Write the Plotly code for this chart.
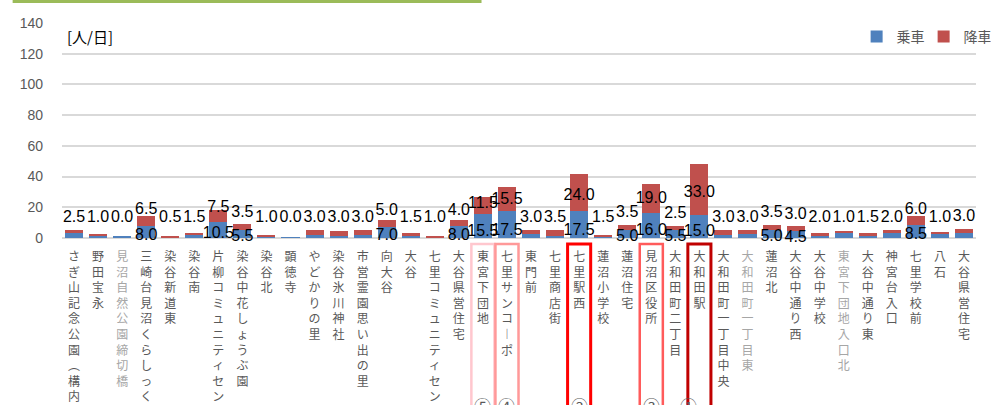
import plotly.graph_objects as go

stops = [
    "さぎ山記念公園︵構内︶", "野田宝永", "見沼自然公園締切橋", "三崎台見沼くらしっく館", "染谷新道東",
    "染谷南", "片柳コミュニティセンタ︱", "染谷中花しょうぶ園", "染谷北", "顕徳寺",
    "やどかりの里", "染谷氷川神社", "市営霊園思い出の里", "向大谷", "大谷",
    "七里コミュニティセンタ︱", "大谷県営住宅", "東宮下団地", "七里サンコ︱ポ", "東門前",
    "七里商店街", "七里駅西", "蓮沼小学校", "蓮沼住宅", "見沼区役所",
    "大和田町二丁目", "大和田駅", "大和田町一丁目中央", "大和田町一丁目東", "蓮沼北",
    "大谷中通り西", "大谷中学校", "東宮下団地入口北", "大谷中通り東", "神宮台入口",
    "七里学校前", "八石", "大谷県営住宅",
]
boarding = [3.0, 1.5, 1.0, 8.0, 0.5, 2.0, 10.5, 5.5, 1.0, 0.5,
            2.0, 1.5, 2.0, 7.0, 1.5, 0.5, 8.0, 15.5, 17.5, 2.5,
            1.5, 17.5, 0.5, 5.0, 16.0, 5.5, 15.0, 2.0, 2.5, 5.0,
            4.5, 1.5, 3.5, 1.5, 3.0, 8.5, 3.0, 3.0]
alighting = [2.5, 1.0, 0.0, 6.5, 0.5, 1.5, 7.5, 3.5, 1.0, 0.0,
             3.0, 3.0, 3.0, 5.0, 1.5, 1.0, 4.0, 11.5, 15.5, 3.0,
             3.5, 24.0, 1.5, 3.5, 19.0, 2.5, 33.0, 3.0, 3.0, 3.5,
             3.0, 2.0, 1.0, 1.5, 2.0, 6.0, 1.0, 3.0]
grey_stops = [2, 28, 32]
# highlighted stops: (index, box colour, circled rank)
highlights = [(17, "#FFC7CE", "⑤"), (18, "#FF9999", "④"), (21, "#FF0000", "②"),
              (24, "#FF5B5B", "③"), (26, "#C00000", "①")]
y_ticks = [0, 20, 40, 60, 80, 100, 120, 140]

n = len(stops)
xs = list(range(n))
BLUE = "#4F81BD"
RED = "#C0504D"
GREY = "#595959"


def vertical(name, idx):
    if idx in grey_stops:
        return "<br>".join(f"<span style='color:#A6A6A6'>{c}</span>" for c in name)
    return "<br>".join(list(name))


ticktext = [vertical(s, i) for i, s in enumerate(stops)]

fig = go.Figure()
fig.add_trace(go.Bar(x=xs, y=boarding, name="乗車", marker=dict(color=BLUE, line=dict(width=0))))
fig.add_trace(go.Bar(x=xs, y=alighting, name="降車", marker=dict(color=RED, line=dict(width=0))))

# value labels
tot = [b + a for b, a in zip(boarding, alighting)]
red_y = [max(13, min(t + 7.5, 17.5 + 0.33 * (t - 12))) for t in tot]
blue_y = [-1.3 + 0.35 * b for b in boarding]
fig.add_trace(go.Scatter(x=xs, y=blue_y, mode="text", text=[f"{v:.1f}" for v in boarding],
                         textfont=dict(family="Liberation Sans", size=16, color="#000000"),
                         showlegend=False, cliponaxis=False, hoverinfo="skip"))
fig.add_trace(go.Scatter(x=xs, y=red_y, mode="text", text=[f"{v:.1f}" for v in alighting],
                         textfont=dict(family="Liberation Sans", size=16, color="#000000"),
                         showlegend=False, cliponaxis=False, hoverinfo="skip"))

shapes = []
annotations = []
for idx, col, rank in highlights:
    x0 = (idx + 0.5 - 0.48) / n
    x1 = (idx + 0.5 + 0.48) / n
    lw = 3 if col in ("#FF0000", "#C00000") else 2.5
    shapes.append(dict(type="rect", xref="paper", yref="paper", x0=x0, x1=x1, y0=-0.028, y1=-0.95,
                       line=dict(color=col, width=lw), fillcolor="rgba(0,0,0,0)", layer="above"))
    annotations.append(dict(x=(idx + 0.5) / n, y=-0.845, xref="paper", yref="paper", text=rank,
                            showarrow=False, font=dict(family="Noto Sans CJK JP", size=17, color=GREY)))

# green header box border (bottom edge)
shapes.append(dict(type="line", xref="paper", yref="paper", x0=-0.054, x1=0.459, y0=1.100, y1=1.100,
                   line=dict(color="#9BBB59", width=3)))
annotations.append(dict(x=0.003, y=0.935, xref="paper", yref="paper", xanchor="left", yanchor="middle",
                        text="[人/日]", showarrow=False,
                        font=dict(family="Noto Sans CJK JP", size=15, color="#000000")))

fig.update_layout(
    width=994, height=405,
    margin=dict(l=62, r=18, t=23, b=167, autoexpand=False),
    barmode="stack", bargap=0.25,
    plot_bgcolor="white", paper_bgcolor="white",
    font=dict(family="Noto Sans CJK JP", color=GREY),
    shapes=shapes, annotations=annotations,
    legend=dict(orientation="h", x=1.016, xanchor="right", y=0.935, yanchor="middle",
                font=dict(family="Noto Sans CJK JP", size=14, color=GREY),
                bgcolor="rgba(0,0,0,0)", itemwidth=30, traceorder="normal",
                entrywidth=22, entrywidthmode="pixels"),
    showlegend=True,
)
fig.update_xaxes(range=[-0.5, n - 0.5], tickmode="array", tickvals=xs, ticktext=ticktext,
                 tickangle=0, showgrid=False, zeroline=False, showline=False, ticks="",
                 automargin=False, ticklabelstandoff=10,
                 tickfont=dict(family="Noto Sans CJK JP", size=12, color=GREY))
fig.update_yaxes(range=[0, 140], tickvals=y_ticks, showgrid=True, gridcolor="#D9D9D9", gridwidth=1.5,
                 zeroline=True, zerolinecolor="#D9D9D9", zerolinewidth=1.5, showline=False, ticks="",
                 ticklabelstandoff=18, automargin=False,
                 tickfont=dict(family="Liberation Sans", size=14, color=GREY))

fig.write_html("out.html", config={"displayModeBar": False},
               post_script="document.body.style.margin='0px';")
